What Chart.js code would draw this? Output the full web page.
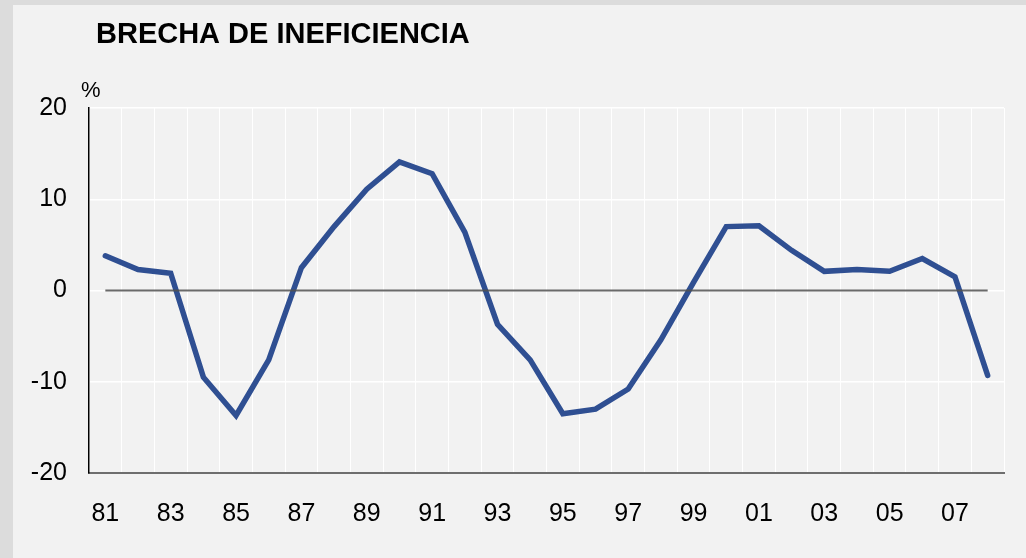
<!DOCTYPE html>
<html>
<head>
<meta charset="utf-8">
<script src="https://cdn.jsdelivr.net/npm/chart.js@4"></script>
<style>
  html,body{margin:0;padding:0;background:#dcdcdc;}
  canvas{display:block;}
</style>
</head>
<body>
<canvas id="chart" width="1026" height="558"></canvas>
<script>
/* DATA */
const years = ['81','82','83','84','85','86','87','88','89','90','91','92','93','94',
               '95','96','97','98','99','00','01','02','03','04','05','06','07','08'];
const brecha = [3.8, 2.3, 1.9, -9.5, -13.7, -7.6, 2.5, 7.0, 11.1, 14.1, 12.8, 6.4, -3.7, -7.6,
                -13.5, -13.0, -10.8, -5.4, 0.9, 7.0, 7.1, 4.4, 2.1, 2.3, 2.1, 3.5, 1.5, -9.3];
const yTicks = [-20, -10, 0, 10, 20];
const title = 'BRECHA DE INEFICIENCIA';
const unit = '%';

const FONT = "'Liberation Sans', Arial, sans-serif";

/* background, title, unit label */
const frame = {
    id:'frame',
    beforeDraw(chart){
        const c = chart.ctx;
        c.save();
        c.fillStyle = '#dcdcdc';
        c.fillRect(0,0,chart.width,chart.height);
        c.fillStyle = '#f2f2f2';
        c.fillRect(13,5,chart.width-13,chart.height-5);
        c.restore();
    },
    afterDraw(chart){
        const c = chart.ctx;
        c.save();
        c.fillStyle = '#000';
        c.textBaseline = 'alphabetic';
        c.font = 'bold 29px ' + FONT;
        c.fillText(title, 96, 43);
        c.font = '22px ' + FONT;
        c.fillText(unit, 81, 97);
        c.restore();
    }
};

/* zero line from first to last year, on top of the series */
const zeroLine = {
    id:'zeroLine',
    afterDatasetsDraw(chart){
        const x = chart.scales.x, y = chart.scales.y;
        const c = chart.ctx;
        const y0 = y.getPixelForValue(0);
        c.save();
        c.strokeStyle = 'rgba(80,80,80,0.85)';
        c.lineWidth = 2;
        c.beginPath();
        c.moveTo(x.getPixelForValue(0), y0);
        c.lineTo(x.getPixelForValue(years.length-1), y0);
        c.stroke();
        c.restore();
    }
};

new Chart(document.getElementById('chart'), {
    type:'line',
    data:{
        labels:years,
        datasets:[{
            data:brecha,
            borderColor:'#2f4f92',
            borderWidth:5.5,
            borderCapStyle:'round',
            pointRadius:0,
            tension:0,
            fill:false
        }]
    },
    options:{
        responsive:false,
        devicePixelRatio:1,
        animation:false,
        layout:{padding:{left:0,top:108,right:22,bottom:0}},
        plugins:{legend:{display:false},tooltip:{enabled:false},title:{display:false}},
        scales:{
            x:{
                offset:true,
                grid:{offset:true,color:'#ffffff',lineWidth:1,drawTicks:false},
                border:{color:'#6e6e6e',width:2},
                ticks:{
                    autoSkip:false,maxRotation:0,color:'#000',padding:26,
                    font:{family:FONT,size:25},
                    callback:function(v,i){return i%2===0 ? years[i] : '';}
                },
                afterFit(s){s.height = 85;}
            },
            y:{
                min:-20,max:20,
                afterBuildTicks(s){s.ticks = yTicks.map(v=>({value:v}));},
                grid:{color:'#ffffff',lineWidth:1.5,drawTicks:false},
                border:{color:'#000',width:1.5},
                ticks:{color:'#000',padding:22,font:{family:FONT,size:25}},
                afterFit(s){s.width = 89;}
            }
        }
    },
    plugins:[frame,zeroLine]
});
</script>
</body>
</html>
